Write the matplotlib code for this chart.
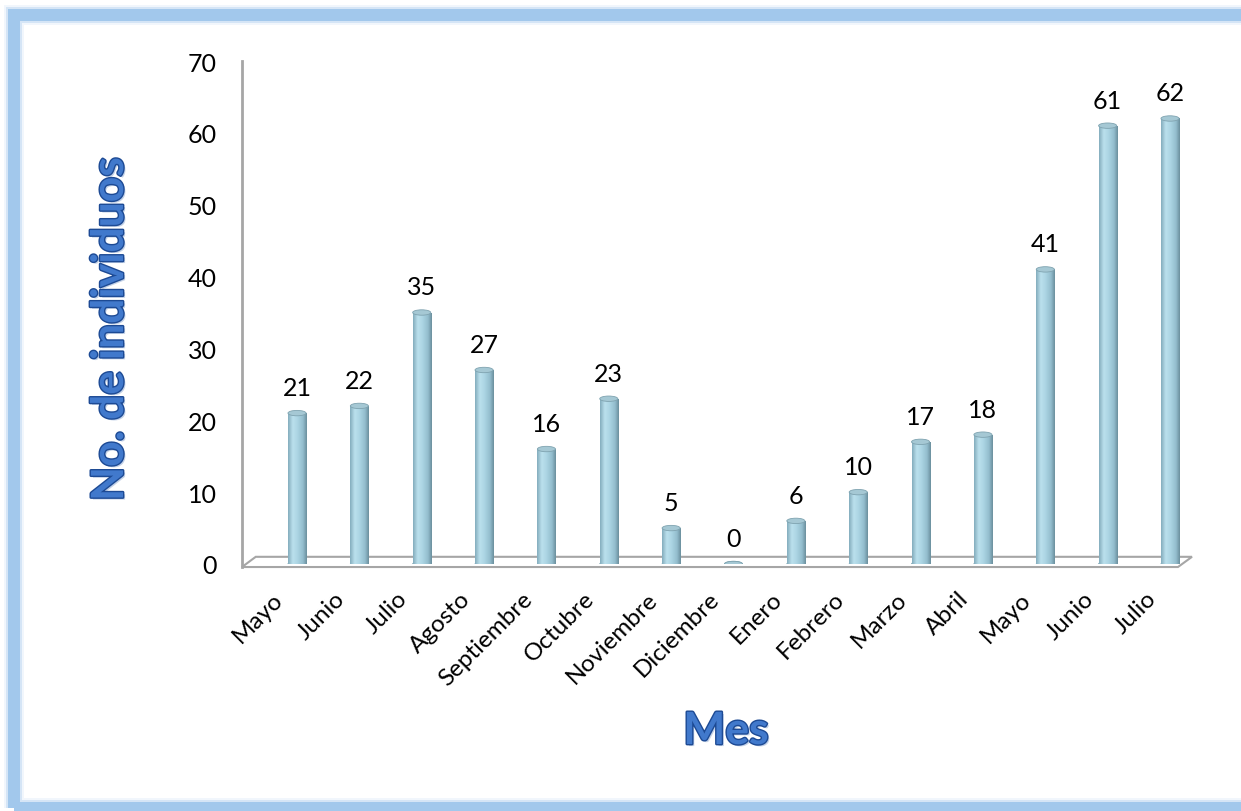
import matplotlib
matplotlib.use("Agg")
import numpy as np
import matplotlib.pyplot as plt
import matplotlib.patheffects as pe
from matplotlib.patches import Ellipse, Rectangle, Polygon
from matplotlib.colors import LinearSegmentedColormap
from matplotlib.transforms import ScaledTranslation

plt.rcParams['font.family'] = ['Lato', 'DejaVu Sans']

meses = ["Mayo", "Junio", "Julio", "Agosto", "Septiembre", "Octubre", "Noviembre",
         "Diciembre", "Enero", "Febrero", "Marzo", "Abril", "Mayo", "Junio", "Julio"]
individuos = [21, 22, 35, 27, 16, 23, 5, 0, 6, 10, 17, 18, 41, 61, 62]
yticks = [0, 10, 20, 30, 40, 50, 60, 70]

fig = plt.figure(figsize=(12.41, 8.12), dpi=100)
fig.patch.set_facecolor("white")

# blue glowing frame
for lw, a in [(12, 1.0), (16, 0.35), (20, 0.15)]:
    fig.add_artist(Rectangle((14 / 1241, 3 / 812), 1.2, 1 - 19 / 812,
                             transform=fig.transFigure, fill=False,
                             edgecolor="#a2c8ec", lw=lw * 0.72, alpha=a,
                             zorder=-1))

ax = fig.add_axes([242 / 1241, 1 - 565 / 812, 950 / 1241, 503 / 812])
ax.set_facecolor("none")

x = np.arange(len(individuos))
w = 0.29
x0 = -(297 - 242) / 62.36
x1 = 14 + (1192 - 1170) / 62.36

cyl = LinearSegmentedColormap.from_list(
    "cyl", [(0, "#84adbd"), (0.25, "#bbe0ed"), (0.5, "#acd5e4"),
            (0.8, "#93bdcd"), (1.0, "#6b909e")])
grad = np.linspace(0, 1, 64).reshape(1, -1)

# floor
floor = Polygon([(x0, -0.42), (x0 + 0.22, 1.0), (x1, 1.0), (x1 - 0.225, -0.42)],
                closed=True, fill=False, edgecolor="#a6a6a6", lw=1.5,
                clip_on=False, zorder=1)
ax.add_patch(floor)
ax.plot([x0, x0], [-0.42, 70], color="#a6a6a6", lw=2, clip_on=False, zorder=1)

bars = ax.bar(x, individuos, width=w, color="#a9d3e2", edgecolor="none", zorder=3)
for xi, v, b in zip(x, individuos, bars):
    ax.add_patch(Ellipse((xi, 0), w, 0.75, facecolor="#9cc5d5",
                         edgecolor="#7fa3b0", lw=0.6, zorder=2.5))
    if v > 0:
        im = ax.imshow(grad, extent=[xi - w / 2, xi + w / 2, 0, v], aspect="auto",
                       cmap=cyl, zorder=3.5, interpolation="bilinear")
        im.set_clip_path(b)
    ax.add_patch(Ellipse((xi, v), w, 0.75, facecolor="#a5c8d4",
                         edgecolor="#7fa3b0", lw=0.6, zorder=4))
    ax.annotate(str(v), (xi, v), xytext=(0, 13), textcoords="offset points",
                ha="center", va="baseline", fontsize=18, color="black")

ax.set_xlim(x0, x1)
ax.set_ylim(0, 70)
for s in ax.spines.values():
    s.set_visible(False)

ax.set_yticks(yticks)
ax.set_yticklabels([str(t) for t in yticks], fontsize=18)
ax.tick_params(axis="y", length=0, pad=18)

ax.set_xticks(x)
ax.set_xticklabels(meses, rotation=45, ha="right", rotation_mode="anchor",
                   fontsize=17.5)
ax.tick_params(axis="x", length=0, pad=17)
off = ScaledTranslation(-25 / 100, 0, fig.dpi_scale_trans)
for lbl in ax.get_xticklabels():
    lbl.set_transform(lbl.get_transform() + off)

title_fx = [pe.SimplePatchShadow(offset=(1.5, -1.5), shadow_rgbFace="#8aa6d0", alpha=0.5),
            pe.Stroke(linewidth=2, foreground="#1d4a94"), pe.Normal()]
fig.text(110 / 1241, 1 - 330 / 812, "No. de individuos", rotation=90,
         ha="center", va="center", fontsize=32, fontweight="bold",
         color="#4179cc", path_effects=title_fx)
fig.text(726 / 1241, 1 - 732 / 812, "Mes", ha="center", va="center",
         fontsize=32, fontweight="bold", color="#4179cc", path_effects=title_fx)

fig.savefig("out.png", dpi=100)
